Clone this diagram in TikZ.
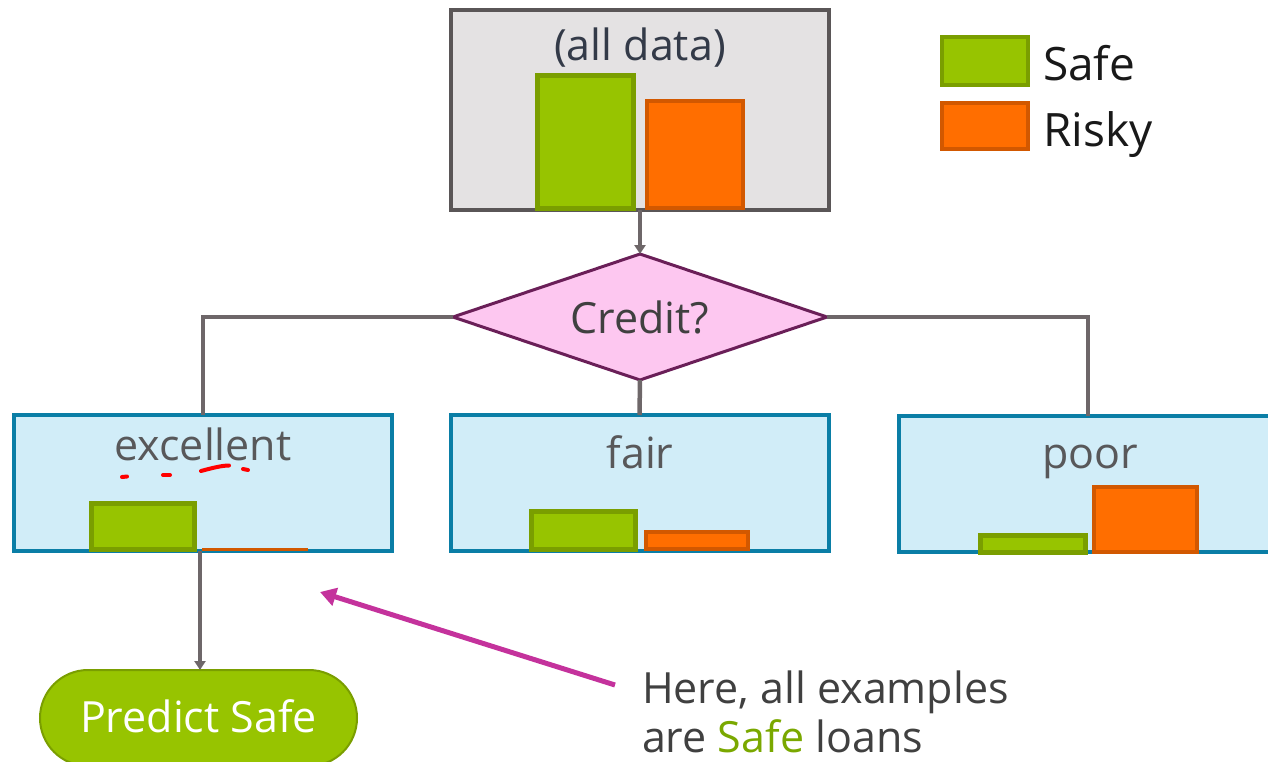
\documentclass[tikz,border=0pt]{standalone}
\usepackage{fontspec}
\setmainfont{Open Sans}
\usetikzlibrary{shapes.geometric,shapes.misc,arrows.meta}
\definecolor{sgreen}{HTML}{97C400}
\definecolor{sgreenD}{HTML}{7A9E00}
\definecolor{rorange}{HTML}{FF6E00}
\definecolor{rorangeD}{HTML}{D25800}
\definecolor{boxgray}{HTML}{E4E2E3}
\definecolor{edgegray}{HTML}{5A5657}
\definecolor{linegray}{HTML}{6E6769}
\definecolor{dpink}{HTML}{FDC7F0}
\definecolor{dpurple}{HTML}{6A1F58}
\definecolor{leafblue}{HTML}{D1EDF8}
\definecolor{leafedge}{HTML}{0A7EA6}
\definecolor{magarrow}{HTML}{C4329C}
\definecolor{txtgray}{HTML}{58585A}
\definecolor{txtdark}{HTML}{333A48}
\definecolor{safetxt}{HTML}{7AA800}
\begin{document}
\begin{tikzpicture}[x=1pt,y=-1pt,
  every node/.style={inner sep=0pt,outer sep=0pt},
  big/.style={font=\fontsize{43}{50}\selectfont},
  leaf/.style={draw=leafedge,fill=leafblue,line width=4pt,minimum width=378pt,minimum height=136pt},
  safebar/.style={draw=sgreenD,fill=sgreen,line width=5pt},
  riskbar/.style={draw=rorangeD,fill=rorange,line width=4pt},
  conn/.style={draw=linegray,line width=4.5pt},
  arr/.style={draw=linegray,line width=3.5pt,-{Triangle[length=9pt,width=11pt]}},
]
\useasboundingbox (0,0) rectangle (1268,761);

% root box
\node[draw=edgegray,fill=boxgray,line width=4pt,minimum width=378pt,minimum height=200pt] (root) at (640,110) {};
\node[big,text=txtdark,anchor=base] (alltxt) at (640,60) {(all data)};
\draw[safebar] (537.5,75) rectangle (633.5,208);
\draw[riskbar] (647,101) rectangle (743,208);

% legend
\node[draw=sgreenD,fill=sgreen,line width=4pt,minimum width=86pt,minimum height=48pt] (lsafe) at (985,61) {};
\node[draw=rorangeD,fill=rorange,line width=4pt,minimum width=86pt,minimum height=46pt] (lrisk) at (985,126) {};
\node[font=\fontsize{46}{50}\selectfont,text=black!90,anchor=base west] (lsafet) at (1043,80) {Safe};
\node[font=\fontsize{46}{50}\selectfont,text=black!90,anchor=base west] (lriskt) at (1043,146) {Risky};

% diamond
\node[diamond,draw=dpurple,fill=dpink,line width=3pt,minimum width=374pt,minimum height=126pt,aspect=3] (dia) at (640,317) {};
\node[big,text=black!75,anchor=base] (diat) at (640,333) {Credit?};

\draw[arr] (root.south) -- (dia.north);

% leaves
\node[leaf] (exc) at (203,483) {};
\node[leaf] (fair) at (639.5,483) {};
\node[leaf] (poor) at (1088,484) {};

\node[big,text=txtgray,anchor=base] (exct) at (203,460) {excellent};
\node[big,text=txtgray,anchor=base] (fairt) at (640,468) {fair};
\node[big,text=txtgray,anchor=base] (poort) at (1090,468) {poor};

\draw[conn] (dia.west) -| (exc.north);
\draw[conn] (dia.east) -| (poor.north);
\draw[conn] (dia.south) -- (fair.north);

% red squiggles
\begin{scope}[draw=red,line width=4pt,line cap=round]
\draw (122,477) -- (127,476.5);
\draw (163,475) -- (170,475);
\draw (201,471) .. controls (212,468) and (222,465.5) .. (229,465.5);
\draw (243,469) -- (248,470);
\end{scope}

% excellent bars
\draw[safebar] (91,503.5) rectangle (194,549);
\draw[draw=rorangeD,line width=3pt] (202,549) -- (308,549);

% fair bars
\draw[safebar] (531,511) rectangle (635,549);
\draw[riskbar] (646,532) rectangle (748,549);

% poor bars
\draw[safebar] (980,535.5) rectangle (1085,552);
\draw[riskbar] (1094,487) rectangle (1197,552);

% predict safe
\node[rounded rectangle,draw=sgreenD,fill=sgreen,line width=2pt,minimum width=317pt,minimum height=96pt] (pred) at (198.5,718) {};
\node[big,text=white,anchor=base] (predt) at (198.5,732) {Predict Safe};
\draw[arr] (exc.south -| 200,0) -- (200,0 |- pred.north);

% annotation
\node[big,text=black!75,anchor=base west,align=left] (note) at (642,703) {Here, all examples};
\node[big,text=black!75,anchor=base west,align=left] (note2) at (642,752) {are \textcolor{safetxt}{Safe} loans};
\coordinate (mstart) at (615,685);
\coordinate (mtip) at (320,592);
\draw[draw=magarrow,line width=5pt,-{Triangle[length=16pt,width=18pt]}] (mstart) -- (mtip);
\end{tikzpicture}
\end{document}
